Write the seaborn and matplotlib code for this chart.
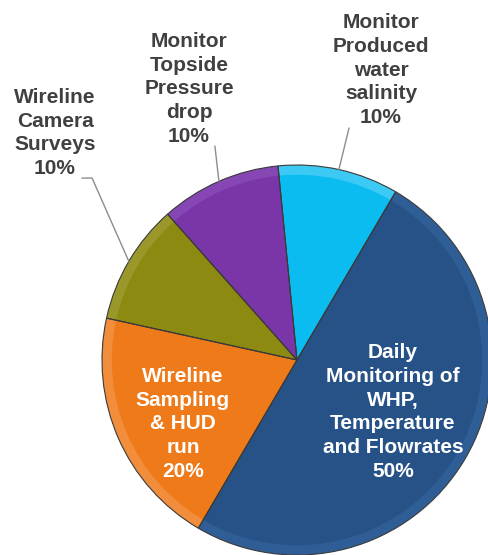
import numpy as np
import matplotlib
matplotlib.use("Agg")
import matplotlib.pyplot as plt
import seaborn as sns

# slices, clockwise from the top
labels = ["Monitor\nProduced\nwater\nsalinity",
          "Daily\nMonitoring of\nWHP,\nTemperature\nand Flowrates",
          "Wireline\nSampling\n& HUD\nrun",
          "Wireline\nCamera\nSurveys",
          "Monitor\nTopside\nPressure\ndrop"]
shares = [10, 50, 20, 10, 10]
colors = ["#0BBCF0", "#265288", "#EE7A1A", "#8C8A10", "#7A35A8"]
rims = ["#3CCAF5", "#2F5E96", "#F28D3C", "#9A982A", "#8646B4"]
inside = [False, True, True, False, False]

sns.set_theme(style="white")
plt.rcParams['font.family'] = ['Liberation Sans', 'DejaVu Sans']

fig = plt.figure(figsize=(4.89, 5.55), dpi=100)
ax = fig.add_axes([0, 0, 1, 1])

# rim (bevel-like) then main body, then outlines on top
wedges, _ = ax.pie(shares, colors=rims, startangle=95.6, counterclock=False,
                   radius=1.0, wedgeprops=dict(edgecolor="none", linewidth=0))
ax.pie(shares, colors=colors, startangle=95.6, counterclock=False,
       radius=0.95, wedgeprops=dict(edgecolor="none", linewidth=0))
ax.pie(shares, colors=colors, startangle=95.6, counterclock=False,
       radius=1.0, wedgeprops=dict(edgecolor="#3A3A3A", linewidth=0.8, fill=False))

pct = [f"{s}%" for s in shares]

# label layout (data units, radius = 1)
inner_pos = {1: (0.492, -0.267), 2: (-0.585, -0.328)}
outer_pos = {0: (0.431, 1.487), 3: (-1.241, 1.164), 4: (-0.554, 1.39)}
leader_end = {0: [(0.267, 1.19)], 3: [(-1.051, 0.933), (-1.103, 0.933)], 4: [(-0.421, 1.097)]}

for i, w in enumerate(wedges):
    txt = labels[i] + "\n" + pct[i]
    if inside[i]:
        x, y = inner_pos[i]
        ax.text(x, y, txt, ha="center", va="center", color="white",
                fontsize=15, fontweight="bold", linespacing=1.32)
    else:
        mid = np.deg2rad((w.theta1 + w.theta2) / 2)
        pts = [(np.cos(mid), np.sin(mid))] + leader_end[i]
        ax.plot([p[0] for p in pts], [p[1] for p in pts], color="#8C8C8C", lw=1)
        x, y = outer_pos[i]
        ax.text(x, y, txt, ha="center", va="center", color="#404040",
                fontsize=15, fontweight="bold", linespacing=1.32)

ax.set_xlim(-297 / 195, (489 - 297) / 195)
ax.set_ylim(-(555 - 360) / 195, 360 / 195)
ax.set_aspect("equal")
ax.axis("off")

fig.savefig("out.png", dpi=100, facecolor="white")
